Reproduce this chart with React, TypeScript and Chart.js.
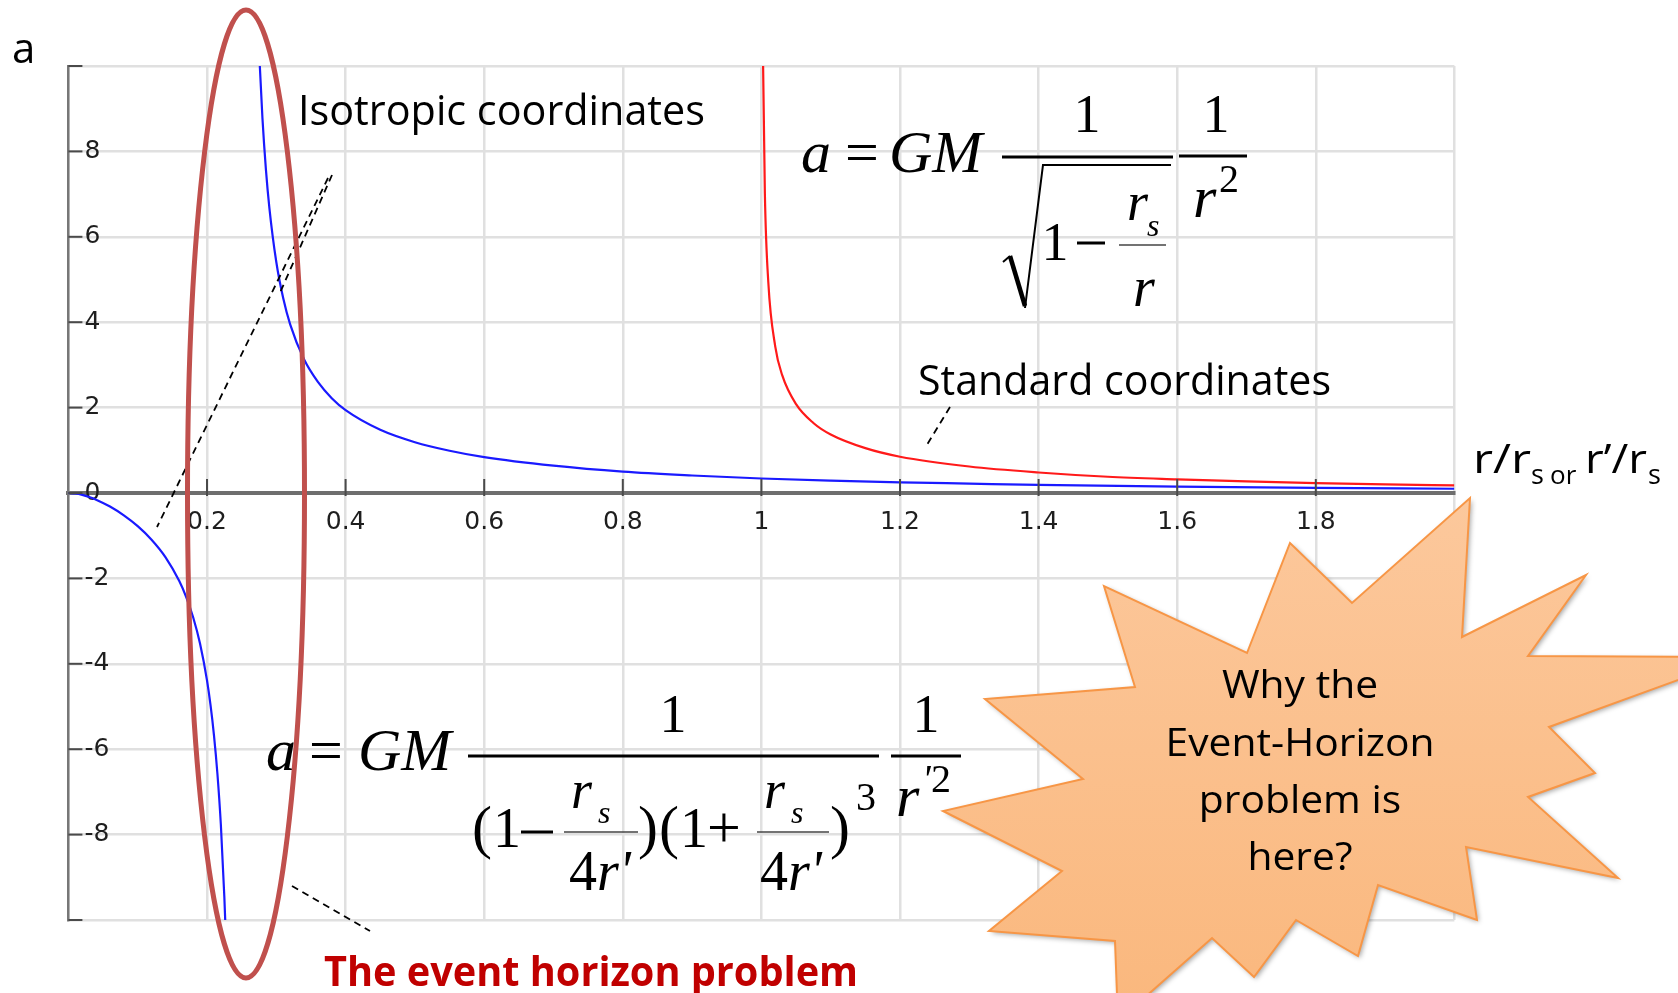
import React, { useEffect, useRef } from "react";
import { Chart, registerables } from "chart.js";

Chart.register(...registerables);

// Isotropic coordinates, branch inside r' < rs/4 (acceleration goes negative)
const isoInnerR = [0, 0.01, 0.02, 0.03, 0.04, 0.06, 0.08, 0.1, 0.12, 0.14, 0.16, 0.17, 0.18, 0.19, 0.2, 0.205, 0.21, 0.215, 0.22, 0.225, 0.227];
const isoInnerA = [0, -0.012, -0.044, -0.093, -0.156, -0.318, -0.524, -0.777, -1.094, -1.502, -2.063, -2.438, -2.911, -3.532, -4.389, -4.957, -5.663, -6.569, -7.77, -9.448, -10.32];

// Isotropic coordinates, branch outside r' = rs/4
const isoOuterR = [0.274, 0.276, 0.28, 0.285, 0.29, 0.3, 0.31, 0.32, 0.34, 0.36, 0.38, 0.4, 0.45, 0.5, 0.55, 0.6, 0.7, 0.8, 0.9, 1.0, 1.1, 1.2, 1.3, 1.4, 1.6, 1.8, 2.0];
const isoOuterA = [10.87, 10.07, 8.78, 7.58, 6.68, 5.41, 4.56, 3.95, 3.13, 2.6, 2.22, 1.94, 1.48, 1.19, 0.99, 0.84, 0.64, 0.5, 0.41, 0.34, 0.29, 0.25, 0.22, 0.19, 0.15, 0.12, 0.1];

// Standard (Schwarzschild) coordinates, r > rs
const stdR = [1.002, 1.0025, 1.005, 1.01, 1.02, 1.03, 1.05, 1.075, 1.1, 1.15, 1.2, 1.3, 1.4, 1.5, 1.6, 1.7, 1.8, 1.9, 2.0];
const stdA = [11.15, 9.96, 7.02, 4.93, 3.43, 2.76, 2.08, 1.64, 1.37, 1.05, 0.85, 0.62, 0.48, 0.38, 0.32, 0.27, 0.23, 0.2, 0.18];

const xMin = 0;
const xMax = 2;
const xStep = 0.2;
const yMin = -10;
const yMax = 10;
const yStep = 2;

const yAxisTitle = "a";
const isoLabel = "Isotropic coordinates";
const stdLabel = "Standard coordinates";
const problemLabel = "The event horizon problem";
const starLines = ["Why the", "Event-Horizon", "problem is", "here?"];

const SANS = '"Open Sans", "Noto Sans", sans-serif';
const SERIF = '"Liberation Serif", "Times New Roman", serif';

const toPoints = (xs: number[], ys: number[]) => xs.map((x, i) => ({ x, y: ys[i] }));

function put(ctx: CanvasRenderingContext2D, s: string, x: number, y: number, font: string, align: CanvasTextAlign = "left") {
  ctx.font = font;
  ctx.textAlign = align;
  ctx.textBaseline = "alphabetic";
  ctx.fillText(s, x, y);
}

function fit(ctx: CanvasRenderingContext2D, s: string, x: number, y: number, width: number, font: string, align: CanvasTextAlign = "left") {
  ctx.font = font;
  const k = width / ctx.measureText(s).width;
  ctx.save();
  ctx.translate(x, y);
  ctx.scale(k, 1);
  ctx.textAlign = align;
  ctx.textBaseline = "alphabetic";
  ctx.fillText(s, 0, 0);
  ctx.restore();
}

function bar(ctx: CanvasRenderingContext2D, x1: number, x2: number, y: number, w: number, color = "#000") {
  ctx.beginPath();
  ctx.strokeStyle = color;
  ctx.lineWidth = w;
  ctx.moveTo(x1, y);
  ctx.lineTo(x2, y);
  ctx.stroke();
}

function dashed(ctx: CanvasRenderingContext2D, x1: number, y1: number, x2: number, y2: number) {
  ctx.save();
  ctx.setLineDash([7, 5]);
  ctx.strokeStyle = "#000";
  ctx.lineWidth = 1.8;
  ctx.beginPath();
  ctx.moveTo(x1, y1);
  ctx.lineTo(x2, y2);
  ctx.stroke();
  ctx.restore();
}

// a = GM / sqrt(1 - rs/r) * 1/r^2
function standardFormula(ctx: CanvasRenderingContext2D) {
  ctx.fillStyle = "#000";
  put(ctx, "a", 801, 172, `italic 60px ${SERIF}`);
  put(ctx, "=", 845, 172, `60px ${SERIF}`);
  put(ctx, "GM", 889, 172, `italic 60px ${SERIF}`);
  bar(ctx, 1002, 1173, 157, 3);
  put(ctx, "1", 1087, 132, `54px ${SERIF}`, "center");
  ctx.lineCap = "butt";
  ctx.strokeStyle = "#000";
  ctx.beginPath();
  ctx.lineWidth = 2;
  ctx.moveTo(1003, 262);
  ctx.lineTo(1010, 256);
  ctx.stroke();
  ctx.beginPath();
  ctx.lineWidth = 4.5;
  ctx.moveTo(1010, 256);
  ctx.lineTo(1025, 306);
  ctx.stroke();
  ctx.beginPath();
  ctx.lineWidth = 2;
  ctx.moveTo(1025, 308);
  ctx.lineTo(1043, 165);
  ctx.lineTo(1171, 165);
  ctx.stroke();
  put(ctx, "1", 1055, 260, `54px ${SERIF}`, "center");
  bar(ctx, 1077, 1105, 243, 3);
  bar(ctx, 1119, 1166, 245, 1.5, "#444");
  put(ctx, "r", 1127, 220, `italic 54px ${SERIF}`);
  put(ctx, "s", 1147, 236, `italic 32px ${SERIF}`);
  put(ctx, "r", 1133, 306, `italic 56px ${SERIF}`);
  bar(ctx, 1179, 1247, 156, 3);
  put(ctx, "1", 1216, 132, `54px ${SERIF}`, "center");
  put(ctx, "r", 1193, 217, `italic 60px ${SERIF}`);
  put(ctx, "2", 1219, 192, `40px ${SERIF}`);
}

// a = GM / ((1 - rs/4r')(1 + rs/4r')^3) * 1/r'^2
function isotropicFormula(ctx: CanvasRenderingContext2D) {
  ctx.fillStyle = "#000";
  put(ctx, "a", 266, 770, `italic 60px ${SERIF}`);
  put(ctx, "=", 309, 770, `60px ${SERIF}`);
  put(ctx, "GM", 358, 770, `italic 60px ${SERIF}`);
  bar(ctx, 468, 879, 756, 3);
  put(ctx, "1", 673, 732, `54px ${SERIF}`, "center");

  const den = 847;
  put(ctx, "(", 472, den, `60px ${SERIF}`);
  put(ctx, "1", 493, den, `56px ${SERIF}`);
  bar(ctx, 521, 553, 832, 3);
  bar(ctx, 564, 638, 832, 1.5, "#444");
  put(ctx, "r", 571, 808, `italic 54px ${SERIF}`);
  put(ctx, "s", 598, 823, `italic 32px ${SERIF}`);
  put(ctx, "4", 569, 890, `56px ${SERIF}`);
  put(ctx, "r'", 597, 890, `italic 56px ${SERIF}`);
  put(ctx, ")", 638, den, `60px ${SERIF}`);
  put(ctx, "(", 659, den, `60px ${SERIF}`);
  put(ctx, "1", 680, den, `56px ${SERIF}`);
  put(ctx, "+", 707, den, `60px ${SERIF}`);
  bar(ctx, 757, 829, 832, 1.5, "#444");
  put(ctx, "r", 764, 808, `italic 54px ${SERIF}`);
  put(ctx, "s", 791, 823, `italic 32px ${SERIF}`);
  put(ctx, "4", 760, 890, `56px ${SERIF}`);
  put(ctx, "r'", 788, 890, `italic 56px ${SERIF}`);
  put(ctx, ")", 830, den, `60px ${SERIF}`);
  put(ctx, "3", 856, 810, `40px ${SERIF}`);

  bar(ctx, 891, 961, 756, 3);
  put(ctx, "1", 926, 732, `54px ${SERIF}`, "center");
  put(ctx, "r", 896, 816, `italic 60px ${SERIF}`);
  put(ctx, "'", 922, 792, `italic 40px ${SERIF}`);
  put(ctx, "2", 931, 792, `40px ${SERIF}`);
}

function star(ctx: CanvasRenderingContext2D) {
  const outline = [
    [1470, 498], [1462, 637], [1586, 575], [1528, 656], [1741, 657], [1549, 727],
    [1595, 773], [1528, 797], [1618, 878], [1466, 847], [1477, 920], [1378, 885],
    [1358, 956], [1296, 920], [1254, 977], [1212, 938], [1118, 1021], [1115, 941],
    [989, 931], [1062, 871], [943, 811], [1083, 779], [985, 699], [1135, 687],
    [1104, 586], [1247, 653], [1290, 543], [1352, 603],
  ];
  ctx.save();
  ctx.beginPath();
  outline.forEach(([x, y], i) => (i ? ctx.lineTo(x, y) : ctx.moveTo(x, y)));
  ctx.closePath();
  const g = ctx.createLinearGradient(0, 500, 0, 1000);
  g.addColorStop(0, "#fcc89c");
  g.addColorStop(1, "#fab87e");
  ctx.fillStyle = g;
  ctx.shadowColor = "rgba(0,0,0,0.35)";
  ctx.shadowBlur = 5;
  ctx.shadowOffsetX = 2;
  ctx.shadowOffsetY = 2;
  ctx.fill();
  ctx.shadowColor = "transparent";
  ctx.lineJoin = "miter";
  ctx.strokeStyle = "#f79646";
  ctx.lineWidth = 2;
  ctx.stroke();
  ctx.restore();

  ctx.fillStyle = "#000";
  const font = `39px ${SANS}`;
  ctx.font = font;
  const k = 269 / ctx.measureText(starLines[1]).width;
  const baselines = [698, 756, 813, 870];
  starLines.forEach((line, i) => {
    ctx.save();
    ctx.translate(1300, baselines[i]);
    ctx.scale(k, 1);
    ctx.font = font;
    ctx.textAlign = "center";
    ctx.textBaseline = "alphabetic";
    ctx.fillText(line, 0, 0);
    ctx.restore();
  });
}

const overlay = {
  id: "overlay",
  afterDraw(chart: any) {
    const { ctx, chartArea, scales } = chart;
    const xs = scales.x;
    const ys = scales.y;
    const axisY = ys.getPixelForValue(0);
    ctx.save();

    // inward tick marks on both axes
    ctx.strokeStyle = "#4a4a4a";
    ctx.lineWidth = 2;
    ys.ticks.forEach((t: any) => {
      const py = ys.getPixelForValue(t.value);
      ctx.beginPath();
      ctx.moveTo(chartArea.left, py);
      ctx.lineTo(chartArea.left + 14, py);
      ctx.stroke();
    });
    xs.ticks.forEach((t: any) => {
      if (t.value <= xMin || t.value >= xMax) return;
      const px = xs.getPixelForValue(t.value);
      ctx.beginPath();
      ctx.moveTo(px, axisY - 14);
      ctx.lineTo(px, axisY + 3);
      ctx.stroke();
    });

    // labels and leaders
    ctx.fillStyle = "#000";
    put(ctx, yAxisTitle, 12, 63, `42px ${SANS}`);
    fit(ctx, isoLabel, 298, 125, 407, `42px ${SANS}`);
    fit(ctx, stdLabel, 918, 395, 413, `42px ${SANS}`);
    dashed(ctx, 332, 175, 279, 295);
    dashed(ctx, 328, 178, 157, 527);
    dashed(ctx, 950, 407, 925, 448);
    dashed(ctx, 292, 886, 370, 931);

    // horizontal axis title: r/rs or r'/rs
    fit(ctx, "r/r", 1473, 473, 58, `40px ${SANS}`);
    put(ctx, "s", 1531, 484, `27px ${SANS}`);
    put(ctx, "or", 1550, 484, `26px ${SANS}`);
    fit(ctx, "r\u2019/r", 1585, 473, 62, `40px ${SANS}`);
    put(ctx, "s", 1648, 484, `27px ${SANS}`);

    standardFormula(ctx);
    isotropicFormula(ctx);

    // highlight around the singular region
    ctx.beginPath();
    ctx.strokeStyle = "#c0504d";
    ctx.lineWidth = 5;
    ctx.ellipse(246, 494, 58.5, 484, 0, 0, Math.PI * 2);
    ctx.stroke();

    ctx.fillStyle = "#c00000";
    fit(ctx, problemLabel, 324, 986, 534, `bold 41px ${SANS}`);

    star(ctx);
    ctx.restore();
  },
};

export default function App() {
  const canvasRef = useRef<HTMLCanvasElement>(null);

  useEffect(() => {
    const canvas = canvasRef.current;
    if (!canvas) return;
    const tickFont = { family: '"DejaVu Sans", sans-serif', size: 25 };
    const chart = new Chart(canvas, {
      type: "scatter",
      data: {
        datasets: [
          {
            label: "isotropic (inner)",
            data: toPoints(isoInnerR, isoInnerA),
            showLine: true,
            borderColor: "#1a1aff",
            borderWidth: 2.2,
            pointRadius: 0,
            cubicInterpolationMode: "monotone",
          },
          {
            label: "isotropic (outer)",
            data: toPoints(isoOuterR, isoOuterA),
            showLine: true,
            borderColor: "#1a1aff",
            borderWidth: 2.2,
            pointRadius: 0,
            cubicInterpolationMode: "monotone",
          },
          {
            label: "standard",
            data: toPoints(stdR, stdA),
            showLine: true,
            borderColor: "#ff1a1a",
            borderWidth: 2.2,
            pointRadius: 0,
            cubicInterpolationMode: "monotone",
          },
        ],
      },
      options: {
        responsive: false,
        animation: false,
        events: [],
        layout: { padding: { left: 68.4, top: 66, right: 223.6, bottom: 73 } },
        plugins: { legend: { display: false }, tooltip: { enabled: false } },
        scales: {
          x: {
            type: "linear",
            position: { y: 0 } as any,
            min: xMin,
            max: xMax,
            grid: { color: "#e0e0e0", lineWidth: 2.5, drawTicks: false },
            border: { color: "#6e6e6e", width: 4 },
            ticks: {
              stepSize: xStep,
              padding: 14,
              color: "#1e1e1e",
              maxRotation: 0,
              autoSkip: false,
              font: tickFont,
              callback: (v: any) => {
                const n = Number(v);
                if (n <= xMin + 1e-9 || n >= xMax - 1e-9) return "";
                return String(Math.round(n * 10) / 10);
              },
            },
          },
          y: {
            type: "linear",
            position: "left",
            min: yMin,
            max: yMax,
            afterFit: (s: any) => {
              s.width = 0;
            },
            grid: { color: "#e0e0e0", lineWidth: 2.5, drawTicks: false },
            border: { color: "#777", width: 2.5 },
            ticks: {
              stepSize: yStep,
              mirror: true,
              padding: 16,
              color: "#1e1e1e",
              autoSkip: false,
              font: tickFont,
              callback: (v: any) => (Math.abs(Number(v)) >= yMax ? "" : String(v)),
            },
          },
        },
      },
      plugins: [overlay],
    } as any);
    return () => chart.destroy();
  }, []);

  return (
    <div style={{ position: "absolute", left: 0, top: 0, width: 1678, height: 993, background: "#fff" }}>
      <canvas ref={canvasRef} width={1678} height={993} style={{ display: "block" }} />
    </div>
  );
}
